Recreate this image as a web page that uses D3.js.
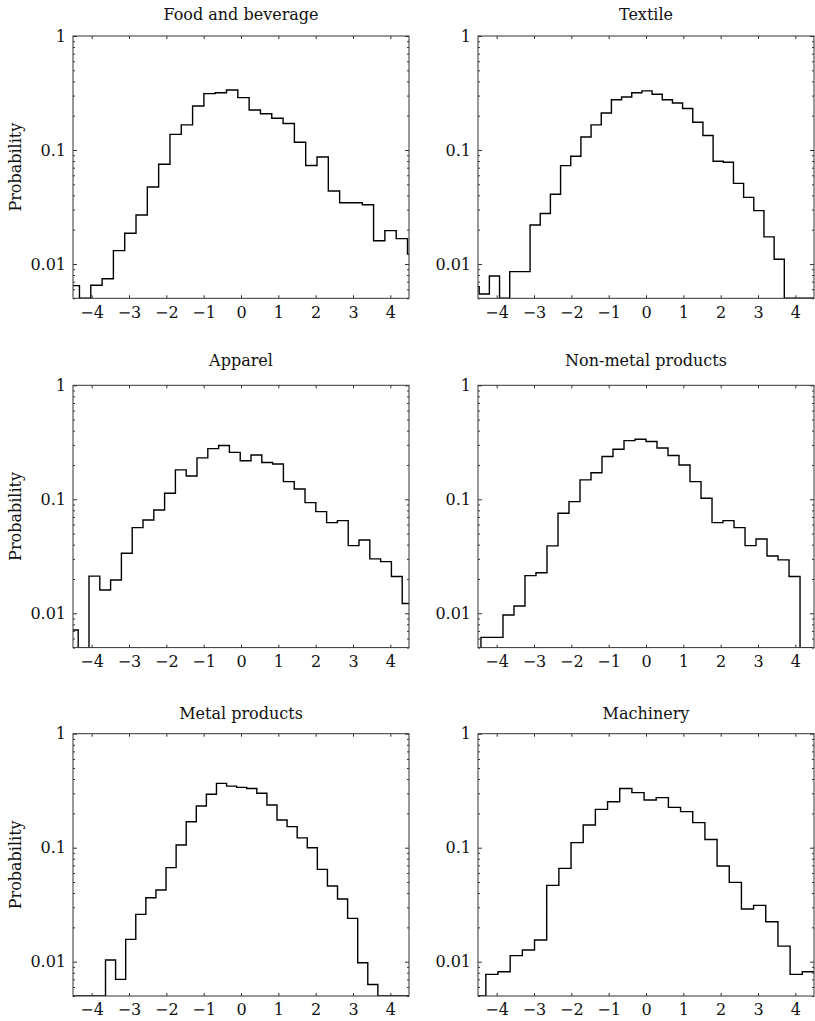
<!DOCTYPE html>
<html>
<head>
<meta charset="utf-8">
<script src="https://cdn.jsdelivr.net/npm/d3@7"></script>
<style>
  body { margin: 0; background: #fff; }
  text { font-family: "DejaVu Serif", serif; fill: #111; }
</style>
</head>
<body>
<svg id="canvas" width="815" height="1021"></svg>
<script>
// Panel titles, in reading order.
let panelTitles = ["Food and beverage", "Textile", "Apparel", "Non-metal products", "Metal products", "Machinery"];

// Left edge of the first bin and the bin width of each histogram.
let binStarts = [-4.63, -4.74, -4.65, -4.715, -4.71, -4.616];
let binWidths = [0.303, 0.2724, 0.2893, 0.2947, 0.2702, 0.326];

// Bin probabilities (0 = empty bin).
let foodProb = [0.00646, 0, 0.0065, 0.00743, 0.0131, 0.0186, 0.0269, 0.0474, 0.0749, 0.137,
    0.166, 0.243, 0.312, 0.318, 0.336, 0.288, 0.224, 0.208, 0.190, 0.171,
    0.117, 0.073, 0.0868, 0.0437, 0.0345, 0.0345, 0.0331, 0.016, 0.0196, 0.0167, 0.0122];
let textileProb = [0.00633, 0.00546, 0.00785, 0, 0.00857, 0.00857, 0.022, 0.0277, 0.0409, 0.0729,
    0.088, 0.13, 0.166, 0.211, 0.276, 0.292, 0.318, 0.33, 0.308, 0.276,
    0.258, 0.231, 0.175, 0.134, 0.0796, 0.078, 0.051, 0.0384, 0.0294, 0.0173, 0.011, 0, 0, 0];
let apparelProb = [0.00714, 0, 0.0212, 0.016, 0.0196, 0.0336, 0.0564, 0.0659, 0.0806, 0.113,
    0.181, 0.16, 0.231, 0.278, 0.296, 0.258, 0.218, 0.245, 0.21, 0.204,
    0.143, 0.123, 0.0935, 0.078, 0.0624, 0.065, 0.0392, 0.044, 0.03, 0.0284, 0.021, 0.0122];
let nonMetalProb = [0, 0.00615, 0.00615, 0.00967, 0.0116, 0.0214, 0.0227, 0.039, 0.0754, 0.0954,
    0.148, 0.171, 0.237, 0.275, 0.327, 0.336, 0.321, 0.282, 0.242, 0.2,
    0.143, 0.102, 0.0624, 0.065, 0.0564, 0.0392, 0.0449, 0.0318, 0.0294, 0.021, 0, 0];
let metalProb = [0, 0, 0, 0, 0.01035, 0.007, 0.0157, 0.026, 0.0364, 0.0425,
    0.0668, 0.1055, 0.169, 0.232, 0.294, 0.367, 0.347, 0.338, 0.331, 0.3,
    0.237, 0.175, 0.153, 0.122, 0.1, 0.0645, 0.0461, 0.0355, 0.024, 0.0098, 0.0063, 0, 0, 0, 0];
let machineryProb = [0, 0.00774, 0.00817, 0.0113, 0.01266, 0.0155, 0.0467, 0.0659, 0.1107, 0.158,
    0.217, 0.253, 0.331, 0.304, 0.262, 0.275, 0.226, 0.207, 0.166, 0.118,
    0.069, 0.0496, 0.029, 0.0312, 0.0224, 0.0137, 0.00774, 0.00817];

let panelProbs = [foodProb, textileProb, apparelProb, nonMetalProb, metalProb, machineryProb];

// Axis settings.
let xDomain = [-4.5, 4.5];
let xTicks = [-4, -3, -2, -1, 0, 1, 2, 3, 4];
let yDomain = [0.005, 1];
let yTicks = [0.01, 0.1, 1];
let yMinorTicks = [0.005, 0.006, 0.007, 0.008, 0.009,
    0.02, 0.03, 0.04, 0.05, 0.06, 0.07, 0.08, 0.09,
    0.2, 0.3, 0.4, 0.5, 0.6, 0.7, 0.8, 0.9];

// Layout.
let colLeft = [73, 478];
let rowTop = [36, 385.3, 733.7];
let titleBase = [20, 365.5, 718.5];
let plotW = 336;
let plotH = 262.3;

let canvas = d3.select("#canvas");
canvas.append("rect").attr("width", 815).attr("height", 1021).attr("fill", "#fff");

function styleAxis(g) {
    g.select(".domain").remove();
    g.selectAll(".tick line").attr("stroke", "#333");
    g.selectAll(".tick text")
        .attr("font-family", "DejaVu Serif, serif")
        .attr("font-size", 16)
        .attr("fill", "#111");
}

function drawPanel(i) {
    let col = i % 2;
    let row = Math.floor(i / 2);
    let g = canvas.append("g")
        .attr("transform", `translate(${colLeft[col]},${rowTop[row]})`);

    let x = d3.scaleLinear().domain(xDomain).range([0, plotW]);
    let y = d3.scaleLog().domain(yDomain).range([plotH, 0]).clamp(true);

    let clipId = "clip" + i;
    g.append("clipPath").attr("id", clipId)
        .append("rect").attr("width", plotW).attr("height", plotH);

    // Step outline of the histogram.
    let probs = panelProbs[i];
    let start = binStarts[i];
    let w = binWidths[i];
    let pts = probs.map((v, j) => [start + j * w, Math.max(v, yDomain[0])]);
    pts.push([start + probs.length * w, pts[pts.length - 1][1]]);

    let line = d3.line()
        .x(d => x(d[0]))
        .y(d => y(d[1]))
        .curve(d3.curveStepAfter);

    g.append("path")
        .attr("clip-path", `url(#${clipId})`)
        .attr("d", line(pts))
        .attr("fill", "none")
        .attr("stroke", "#000")
        .attr("stroke-width", 1.4);

    // Axes, ticks pointing inward.
    g.append("g")
        .attr("transform", `translate(0,${plotH})`)
        .call(d3.axisBottom(x).tickValues(xTicks).tickSize(-3).tickPadding(8).tickFormat(d3.format("d")))
        .call(styleAxis);
    g.append("g")
        .call(d3.axisTop(x).tickValues(xTicks).tickSize(-3).tickFormat(""))
        .call(styleAxis);
    g.append("g")
        .call(d3.axisLeft(y).tickValues(yTicks).tickSize(-4).tickPadding(7).tickFormat(d3.format("~g")))
        .call(styleAxis);
    g.append("g")
        .call(d3.axisLeft(y).tickValues(yMinorTicks).tickSize(-2).tickFormat(""))
        .call(styleAxis);
    g.append("g")
        .attr("transform", `translate(${plotW},0)`)
        .call(d3.axisRight(y).tickValues(yTicks).tickSize(-4).tickFormat(""))
        .call(styleAxis);
    g.append("g")
        .attr("transform", `translate(${plotW},0)`)
        .call(d3.axisRight(y).tickValues(yMinorTicks).tickSize(-2).tickFormat(""))
        .call(styleAxis);

    // Frame.
    g.append("rect")
        .attr("width", plotW)
        .attr("height", plotH)
        .attr("fill", "none")
        .attr("stroke", "#333")
        .attr("stroke-width", 1);

    // Title.
    canvas.append("text")
        .attr("x", colLeft[col] + plotW / 2)
        .attr("y", titleBase[row])
        .attr("text-anchor", "middle")
        .attr("font-size", 16)
        .text(panelTitles[i]);

    // Y label on the left column.
    if (col === 0) {
        canvas.append("text")
            .attr("transform", `translate(21,${rowTop[row] + plotH / 2}) rotate(-90)`)
            .attr("text-anchor", "middle")
            .attr("font-size", 16)
            .text("Probability");
    }
}

for (let i = 0; i < panelTitles.length; i++) {
    drawPanel(i);
}
</script>
</body>
</html>
